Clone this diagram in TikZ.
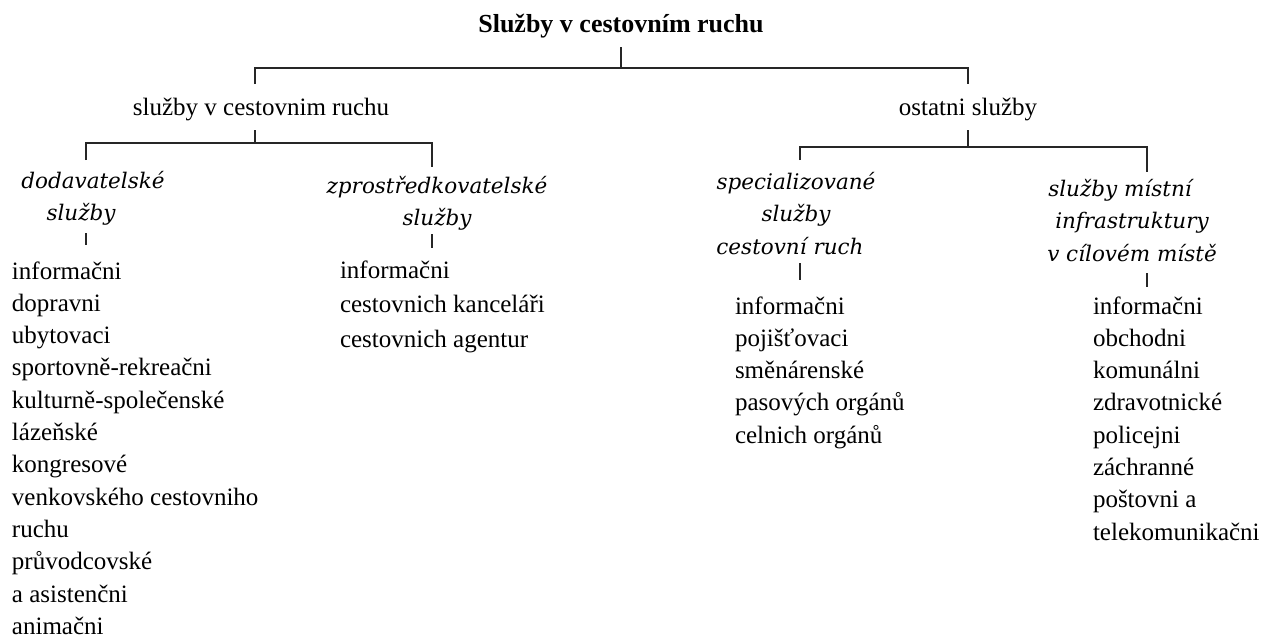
\documentclass[tikz,border=0pt]{standalone}
\usepackage{fontspec}
\setmainfont{Liberation Serif}
\newfontfamily\catfont{DejaVu Serif}
\begin{document}
\begin{tikzpicture}[x=1pt,y=-1pt,
  every node/.style={inner sep=0pt,outer sep=0pt},
  % multi-line nodes are placed by the baseline of their last line
  head/.style={font=\fontsize{26}{30}\selectfont\bfseries,anchor=base},
  branch/.style={font=\fontsize{25}{32}\selectfont,anchor=base},
  cat/.style={font=\catfont\itshape\fontsize{21.5}{32.5}\selectfont,align=center,anchor=base},
  items/.style={font=\fontsize{25}{32.3}\selectfont,align=left,anchor=base west},
  link/.style={draw=black!85,line width=1.4pt},
]
\useasboundingbox (0,0) rectangle (1264,638);

% headings
\node[head] (root) at (621,32) {Služby v cestovním ruchu};
\node[branch] (tour) at (261,115) {služby v cestovnim ruchu};
\node[branch] (other) at (968,115) {ostatni služby};

% categories
\node[cat] (supply) at (93,220.5) {dodavatelské\\ služby\hspace*{24pt}};
\node[cat] (agency) at (437,225.5) {zprostředkovatelské\\ služby};
\node[cat] (special) at (796,254) {specializované\\ služby\\ cestovní ruch\hspace*{12pt}};
\node[cat] (local) at (1132,261) {služby místní\hspace*{24pt}\\ infrastruktury\\ v cílovém místě};

% item lists
\node[items] (supply-list) at (12,634.3) {informačni\\ dopravni\\ ubytovaci\\ sportovně-rekreačni\\ kulturně-společenské\\ lázeňské\\ kongresové\\ venkovského cestovniho\\ ruchu\\ průvodcovské\\ a asistenčni\\ animačni};
\node[items,font=\fontsize{25}{34.5}\selectfont] (agency-list) at (340,347) {informačni\\ cestovnich kanceláři\\ cestovnich agentur};
\node[items] (special-list) at (735,443.2) {informačni\\ pojišťovaci\\ směnárenské\\ pasových orgánů\\ celnich orgánů};
\node[items] (local-list) at (1093,540.1) {informačni\\ obchodni\\ komunálni\\ zdravotnické\\ policejni\\ záchranné\\ poštovni a\\ telekomunikačni};

% junctions
\coordinate (j-root) at (621,68);
\coordinate (j-tour) at (255,143);
\coordinate (j-other) at (968,147);

% connector ends just clear of the texts
\coordinate (root-out) at (621,47);
\coordinate (tour-in) at (255,84);
\coordinate (other-in) at (968,84);
\coordinate (tour-out) at (255,130);
\coordinate (other-out) at (968,130);
\coordinate (supply-in) at (86,160);
\coordinate (agency-in) at (432,167);
\coordinate (special-in) at (800,160);
\coordinate (local-in) at (1147,172);
\coordinate (supply-out) at (86,233);
\coordinate (supply-list-in) at (86,245);
\coordinate (agency-out) at (432,234);
\coordinate (agency-list-in) at (432,248);
\coordinate (special-out) at (800,263);
\coordinate (special-list-in) at (800,280);
\coordinate (local-out) at (1147,273);
\coordinate (local-list-in) at (1147,287);

% tree connectors
\draw[link] (root-out) -- (j-root);
\draw[link] (tour-in) |- (j-root) -| (other-in);
\draw[link] (tour-out) -- (j-tour);
\draw[link] (supply-in) |- (j-tour) -| (agency-in);
\draw[link] (other-out) -- (j-other);
\draw[link] (special-in) |- (j-other) -| (local-in);
\draw[link] (supply-out) -- (supply-list-in);
\draw[link] (agency-out) -- (agency-list-in);
\draw[link] (special-out) -- (special-list-in);
\draw[link] (local-out) -- (local-list-in);
\end{tikzpicture}
\end{document}
